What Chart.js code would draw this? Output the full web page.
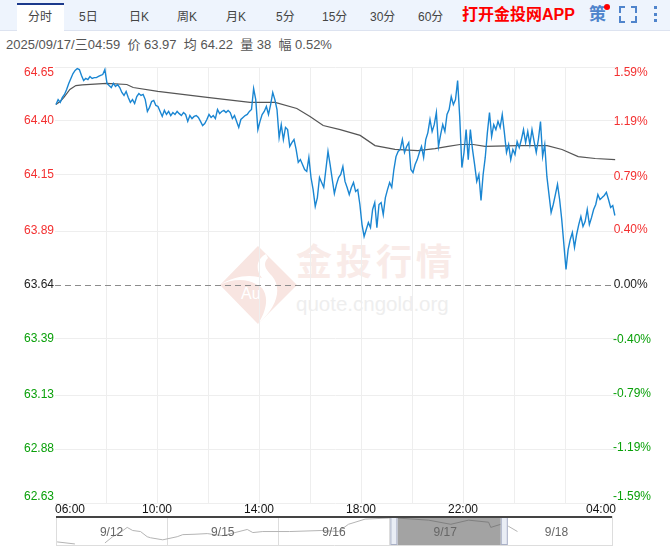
<!DOCTYPE html>
<html>
<head>
<meta charset="utf-8">
<script src="https://cdn.jsdelivr.net/npm/chart.js"></script>
<style>
html, body { margin: 0; padding: 0; background: #fff; overflow: hidden; }
body { width: 670px; height: 546px; position: relative; font-family: "Liberation Sans", "Noto Sans CJK SC", sans-serif; }
.bar { position: absolute; left: 0; top: 0; width: 670px; height: 30px; background: #eef4fd; border-bottom: 1px solid #dde3f0; }
.tab { position: absolute; top: 10px; font-size: 12px; line-height: 14px; color: #444; white-space: nowrap; }
.active { position: absolute; left: 17px; top: 3px; width: 47px; height: 28px; background: #fff; border-top: 2px solid #1c3a8c; box-sizing: border-box; }
.app { position: absolute; left: 462px; top: 6px; font-size: 16px; line-height: 18px; font-weight: bold; color: #f00; white-space: nowrap; }
.ce { position: absolute; left: 589px; top: 5px; font-size: 17px; line-height: 20px; font-weight: bold; color: #4f84cc; }
.dot { position: absolute; left: 604px; top: 4px; width: 6px; height: 6px; border-radius: 3px; background: #f00; }
.info { position: absolute; left: 6px; top: 37px; font-size: 13px; line-height: 16px; color: #555; white-space: pre; }
.wm { position: absolute; left: 0; top: 0; }
#main { position: absolute; left: 0; top: 20px; }
#nav { position: absolute; left: 0; top: 516px; }
</style>
</head>
<body>
<div class="bar"></div>
<div class="active"></div>
<div id="tabs"></div>
<div class="app">打开金投网APP</div>
<div class="ce">策</div>
<div class="dot"></div>
<svg class="wm" width="670" height="60" style="pointer-events:none">
  <path d="M620 13v-6h5M631 7h5v6M636 16v6h-5M625 22h-5v-6" fill="none" stroke="#4f84cc" stroke-width="2"/>
  <rect x="654" y="6" width="3" height="3" fill="#4f84cc"/>
  <rect x="654" y="13" width="3" height="3" fill="#4f84cc"/>
  <rect x="654" y="19" width="3" height="3" fill="#4f84cc"/>
</svg>
<div class="info" id="info"></div>
<svg class="wm" width="670" height="546" style="z-index:0">
  <path d="M258 246L297 285L258 324L220 285Z" fill="#f8e5e1"/>
  <path d="M220 285C234 276 250 274 262 278C254 268 258 258 266 254L268 258C262 264 266 270 272 276C282 288 278 306 258 324C268 308 268 296 262 288C250 278 234 278 220 285Z" fill="#fff"/>
  <text x="241" y="299" font-size="16" fill="#fff" font-family="Liberation Sans">Au</text>
  <text x="296" y="275" font-size="36" letter-spacing="4" font-family="Noto Sans CJK SC" font-weight="bold" fill="#f9ebe8">金投行情</text>
  <text x="296" y="311" font-size="20.5" font-family="Liberation Sans" fill="#eeeeee">quote.cngold.org</text>
</svg>
<canvas id="main" width="670" height="530"></canvas>
<canvas id="nav" width="670" height="30"></canvas>
<script>
var tabNames = ['分时', '5日', '日K', '周K', '月K', '5分', '15分', '30分', '60分'];
var tabLefts = [28, 79, 129, 177, 226, 276, 322, 370, 418];
var infoText = '2025/09/17/三04:59  价 63.97  均 64.22  量 38  幅 0.52%';

// prices every 5 minutes from 06:02
var priceStart = 2.35;
var priceStep = 5;
var prices = [
    64.476, 64.499, 64.486, 64.509, 64.523, 64.546, 64.574, 64.597, 64.620, 64.634,
    64.643, 64.638, 64.611, 64.587, 64.597, 64.592, 64.606, 64.597, 64.601, 64.601,
    64.606, 64.611, 64.615, 64.638, 64.574, 64.564, 64.555, 64.574, 64.560, 64.569,
    64.555, 64.532, 64.518, 64.537, 64.509, 64.486, 64.499, 64.481, 64.513, 64.527,
    64.518, 64.523, 64.499, 64.444, 64.463, 64.490, 64.495, 64.472, 64.467, 64.444,
    64.421, 64.449, 64.430, 64.444, 64.425, 64.439, 64.430, 64.444, 64.434, 64.425,
    64.439, 64.430, 64.398, 64.425, 64.411, 64.421, 64.425, 64.416, 64.398, 64.379,
    64.388, 64.407, 64.430, 64.416, 64.425, 64.411, 64.453, 64.434, 64.444, 64.449,
    64.439, 64.449, 64.439, 64.411, 64.425, 64.398, 64.370, 64.407, 64.416, 64.425,
    64.430, 64.444, 64.453, 64.550, 64.499, 64.360, 64.398, 64.430, 64.444, 64.467,
    64.430, 64.476, 64.532, 64.499, 64.453, 64.323, 64.383, 64.314, 64.370, 64.360,
    64.282, 64.300, 64.314, 64.268, 64.208, 64.221, 64.198, 64.175, 64.166, 64.231,
    64.138, 64.082, 64.004, 64.045, 64.138, 64.115, 64.092, 64.175, 64.259, 64.198,
    64.129, 64.064, 64.106, 64.138, 64.152, 64.189, 64.120, 64.092, 64.059, 64.092,
    64.115, 64.073, 64.082, 64.013, 63.920, 63.865, 63.897, 63.929, 63.906, 63.990,
    64.022, 63.906, 64.013, 64.022, 63.966, 64.045, 64.082, 64.115, 64.092, 64.175,
    64.235, 64.259, 64.268, 64.314, 64.254, 64.282, 64.300, 64.175, 64.161, 64.198,
    64.221, 64.254, 64.282, 64.231, 64.314, 64.346, 64.407, 64.351, 64.383, 64.439,
    64.282, 64.337, 64.383, 64.351, 64.430, 64.453, 64.513, 64.476, 64.499, 64.587,
    64.416, 64.184, 64.254, 64.360, 64.221, 64.360, 64.268, 64.198, 64.120, 64.152,
    64.032, 64.152, 64.231, 64.346, 64.439, 64.328, 64.383, 64.360, 64.398, 64.370,
    64.430, 64.346, 64.254, 64.291, 64.221, 64.268, 64.245, 64.305, 64.277, 64.314,
    64.360, 64.300, 64.351, 64.291, 64.360, 64.305, 64.254, 64.314, 64.397, 64.235,
    64.291, 64.143, 64.059, 63.976, 64.013, 64.059, 64.106, 64.036, 63.943, 63.828,
    63.712, 63.804, 63.851, 63.883, 63.814, 63.874, 63.920, 63.957, 63.911, 63.934,
    63.990, 63.920, 63.952, 63.990, 64.013, 64.059, 64.036, 64.045, 64.055, 64.069,
    64.036, 63.999, 64.008, 63.962
];

var avgTimes = [2, 12, 21, 35, 49, 64, 122, 169, 184, 242, 358, 459, 518, 569, 600, 631, 671, 718, 753, 800, 854, 894, 925, 953, 984, 1012, 1089, 1158, 1193, 1231, 1271, 1318];
var avgPrices = [64.476, 64.490, 64.509, 64.546, 64.564, 64.567, 64.574, 64.569, 64.555, 64.537, 64.509, 64.486, 64.486, 64.458, 64.421, 64.379, 64.360, 64.333, 64.286, 64.268, 64.263, 64.272, 64.282, 64.291, 64.291, 64.282, 64.286, 64.286, 64.268, 64.235, 64.226, 64.221];

var closePrice = 63.64;
var priceTicks = [64.65, 64.40, 64.15, 63.89, 63.64, 63.39, 63.13, 62.88, 62.63];
var percentTicks = [1.59, 1.19, 0.79, 0.40, 0, -0.40, -0.79, -1.19, -1.59];
var timeTicks = [0, 120, 240, 360, 480, 600, 720, 840, 960, 1080, 1200, 1320];
var timeLabels = { 0: '06:00', 240: '10:00', 480: '14:00', 720: '18:00', 960: '22:00', 1320: '04:00' };

// navigator, x is days from the left end
var navDays = [0.01, 0.17, 0.30, 0.44, 0.51, 0.59, 0.64, 0.69, 0.76, 0.82, 0.85, 0.96, 1.09, 1.14, 1.25, 1.36, 1.50, 1.61, 1.72, 1.77, 1.86, 2.10, 2.39, 2.54, 2.63, 2.78, 2.99, 3.07, 3.35, 3.55, 3.71, 3.89, 3.91, 4.00, 4.07, 4.15];
var navPrices = [63.45, 63.35, null, 63.40, 63.70, 63.95, 64.15, 64.00, 63.95, 63.70, 63.65, 63.55, 63.70, 63.80, 63.82, 63.85, 63.75, 63.90, 64.05, 63.90, 63.95, 63.95, 64.00, 63.95, 64.30, 64.55, 64.60, 64.60, 64.50, 64.30, 64.50, 64.40, 64.15, 64.30, 64.20, 63.95];
var navLabels = ['9/12', '9/15', '9/16', '9/17', '9/18'];
var navSelection = [3.07, 4.0];

tabNames.forEach(function (name, i) {
    var el = document.createElement('div');
    el.className = 'tab';
    el.textContent = name;
    el.style.left = tabLefts[i] + 'px';
    document.getElementById('tabs').appendChild(el);
});
document.getElementById('info').textContent = infoText;

function tickColor(value, mid) {
    if (value > mid) return '#f33030';
    if (value < mid) return '#0aa00a';
    return '#222';
}

// first and last labels sit inside the plot height
function edgeLabel(text, value, top, bottom) {
    if (value === top) return ['', text];
    if (value === bottom) return [text, ''];
    return text;
}

new Chart(document.getElementById('main'), {
    type: 'line',
    data: {
        datasets: [{
            label: '价',
            data: prices.map(function (p, i) { return { x: priceStart + i * priceStep, y: p }; }),
            borderColor: '#1a86d2',
            borderWidth: 1.4,
            pointRadius: 0,
            tension: 0
        }, {
            label: '均',
            data: avgTimes.map(function (t, i) { return { x: t, y: avgPrices[i] }; }),
            borderColor: '#555',
            borderWidth: 1.2,
            pointRadius: 0,
            tension: 0
        }]
    },
    options: {
        responsive: false,
        animation: false,
        layout: { padding: 0 },
        plugins: { legend: { display: false }, tooltip: { enabled: false } },
        scales: {
            x: {
                type: 'linear',
                min: 0,
                max: 1320,
                afterBuildTicks: function (axis) {
                    axis.ticks = timeTicks.map(function (t) { return { value: t }; });
                },
                afterFit: function (axis) { axis.height = 10; },
                grid: {
                    color: function (ctx) {
                        return ctx.tick.value === 0 || ctx.tick.value === 1320 ? 'rgba(0,0,0,0)' : '#eeeeee';
                    },
                    drawTicks: false
                },
                border: { display: false },
                ticks: {
                    autoSkip: false,
                    maxRotation: 0,
                    align: 'inner',
                    padding: -1,
                    color: '#111',
                    font: { size: 12, family: 'Liberation Sans' },
                    callback: function (v) { return timeLabels[v] || ''; }
                }
            },
            y: {
                position: 'left',
                min: 62.63,
                max: 64.65,
                afterBuildTicks: function (axis) {
                    axis.ticks = priceTicks.map(function (t) { return { value: t }; });
                },
                afterFit: function (axis) { axis.width = 55; },
                grid: {
                    color: function (ctx) { return ctx.tick.value === closePrice ? '#8c8c8c' : '#eeeeee'; },
                    drawTicks: false
                },
                border: {
                    display: false,
                    dash: function (ctx) { return ctx.tick && ctx.tick.value === closePrice ? [6, 4] : []; }
                },
                ticks: {
                    padding: 1,
                    autoSkip: false,
                    font: { size: 12, family: 'Liberation Sans', lineHeight: 1 },
                    color: function (ctx) { return tickColor(ctx.tick.value, closePrice); },
                    callback: function (v) { return edgeLabel(v.toFixed(2), v, 64.65, 62.63); }
                }
            },
            y1: {
                position: 'right',
                min: -1.59,
                max: 1.59,
                afterBuildTicks: function (axis) {
                    axis.ticks = percentTicks.map(function (t) { return { value: t }; });
                },
                afterFit: function (axis) { axis.width = 54; },
                grid: { display: false, drawTicks: false },
                border: { display: false },
                ticks: {
                    // mirror keeps the labels from being clipped at the axis edge
                    mirror: true,
                    padding: 35,
                    autoSkip: false,
                    font: { size: 12, family: 'Liberation Sans', lineHeight: 1 },
                    color: function (ctx) { return tickColor(ctx.tick.value, 0); },
                    callback: function (v) {
                        return edgeLabel(v.toFixed(2) + (v < 0 ? '%' : '% '), v, 1.59, -1.59);
                    }
                }
            }
        }
    }
});

// selection band and day names of the navigator
var navPlugin = {
    id: 'navPlugin',
    beforeDatasetsDraw: function (chart) {
        var c = chart.ctx, a = chart.chartArea, x = chart.scales.x;
        var x0 = x.getPixelForValue(navSelection[0]);
        var x1 = x.getPixelForValue(navSelection[1]);
        c.save();
        c.fillStyle = '#a3a3a3';
        c.fillRect(x0, a.top, x1 - x0, a.bottom - a.top);
        c.restore();
    },
    afterDatasetsDraw: function (chart) {
        var c = chart.ctx, a = chart.chartArea, x = chart.scales.x;
        c.save();
        c.font = '12px "Liberation Sans"';
        c.fillStyle = '#666';
        c.textAlign = 'center';
        c.textBaseline = 'middle';
        navLabels.forEach(function (t, i) {
            c.fillText(t, x.getPixelForValue(i + 0.5), a.top + 17);
        });
        navSelection.forEach(function (s, i) {
            var px = x.getPixelForValue(s);
            var left = i === 0 ? px - 7 : px;
            c.fillStyle = '#e9edf5';
            c.strokeStyle = '#a9b0c6';
            c.fillRect(left, a.top, 7, a.bottom - a.top);
            c.strokeRect(left + 0.5, a.top + 0.5, 6, a.bottom - a.top - 1);
        });
        c.restore();
    }
};

new Chart(document.getElementById('nav'), {
    type: 'line',
    data: {
        datasets: [{
            data: navDays.map(function (d, i) { return { x: d, y: navPrices[i] }; }),
            borderColor: '#b4b4b4',
            borderWidth: 1,
            pointRadius: 0,
            spanGaps: false,
            segment: {
                borderColor: function (ctx) {
                    var inside = ctx.p0.parsed.x >= navSelection[0] && ctx.p1.parsed.x <= navSelection[1];
                    return inside ? '#808080' : '#b4b4b4';
                }
            }
        }]
    },
    plugins: [navPlugin],
    options: {
        responsive: false,
        animation: false,
        layout: { padding: { left: 56, right: 58, top: 0, bottom: 1 } },
        plugins: { legend: { display: false }, tooltip: { enabled: false } },
        scales: {
            x: {
                type: 'linear',
                min: 0,
                max: 5,
                afterBuildTicks: function (axis) {
                    axis.ticks = [0, 1, 2, 3, 4, 5].map(function (t) { return { value: t }; });
                },
                afterFit: function (axis) { axis.height = 0; },
                grid: { color: '#dddddd', drawTicks: false },
                border: { display: true, color: '#dddddd' },
                ticks: { display: false }
            },
            y: {
                display: false,
                min: 63.30,
                max: 64.70
            }
        }
    }
});

// dark rule above the navigator
var rule = document.createElement('div');
rule.style.cssText = 'position:absolute;left:56px;top:516px;width:556px;height:2px;background:#444';
document.body.appendChild(rule);
</script>
</body>
</html>
